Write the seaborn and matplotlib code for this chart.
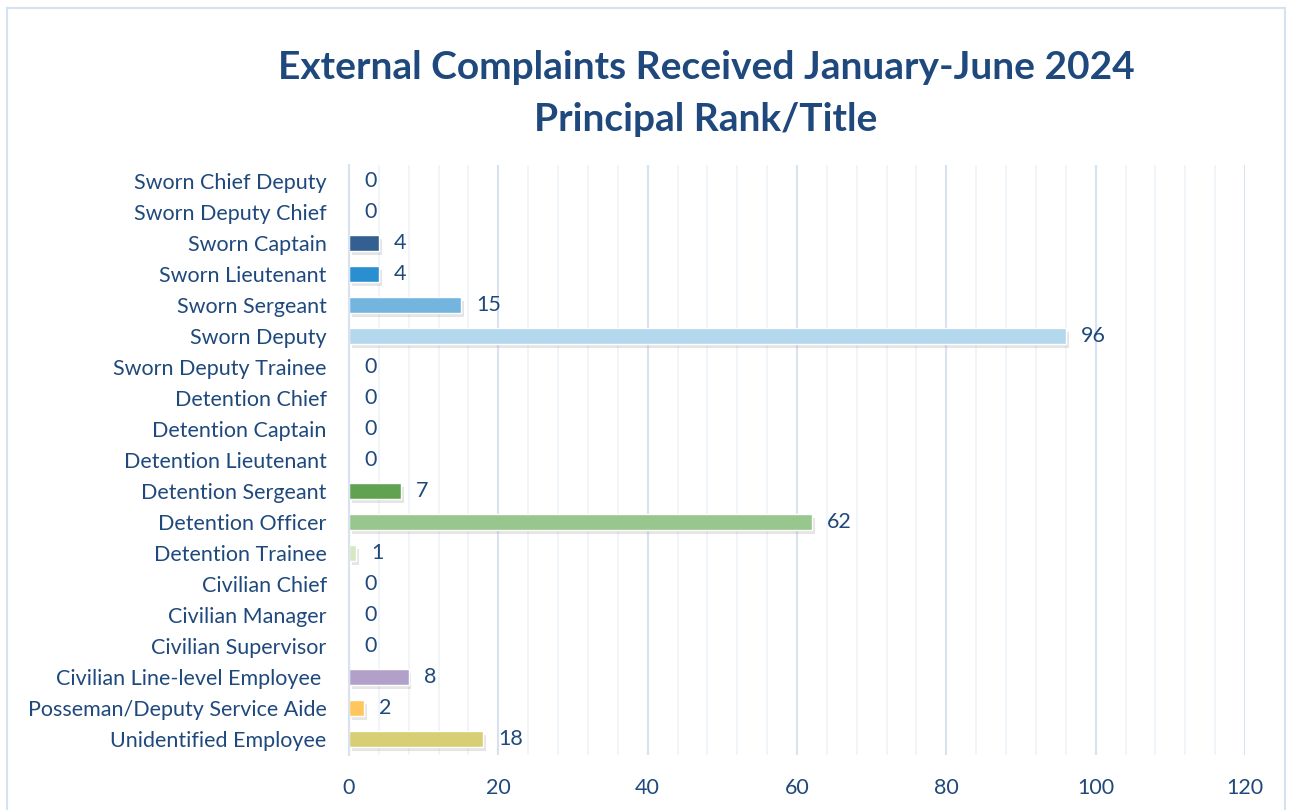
import pandas as pd
import seaborn as sns
import matplotlib.pyplot as plt
import matplotlib.patheffects as pe
from matplotlib.ticker import MultipleLocator
from matplotlib.patches import Rectangle

categories = ["Sworn Chief Deputy", "Sworn Deputy Chief", "Sworn Captain", "Sworn Lieutenant",
              "Sworn Sergeant", "Sworn Deputy", "Sworn Deputy Trainee", "Detention Chief",
              "Detention Captain", "Detention Lieutenant", "Detention Sergeant", "Detention Officer",
              "Detention Trainee", "Civilian Chief", "Civilian Manager", "Civilian Supervisor",
              "Civilian Line-level Employee ", "Posseman/Deputy Service Aide", "Unidentified Employee"]
counts = [0, 0, 4, 4, 15, 96, 0, 0, 0, 0, 7, 62, 1, 0, 0, 0, 8, 2, 18]
bar_colors = ["#335F91", "#335F91", "#335F91", "#2A8FD0", "#74B5E0", "#B3D7EC", "#B3D7EC",
              "#60A24F", "#60A24F", "#60A24F", "#60A24F", "#97C78C", "#D6E8C3", "#B1A1CA",
              "#B1A1CA", "#B1A1CA", "#B1A1CA", "#FFC65E", "#D8CE73"]

navy = "#1F497D"
sns.set_style("white")
plt.rcParams['font.family'] = ['Lato', 'DejaVu Sans']

df = pd.DataFrame({"cat": categories, "n": counts})

fig = plt.figure(figsize=(12.91, 8.10), dpi=100)
ax = fig.add_axes([0.2703, 0.0685, 0.6941, 0.7272])

sns.barplot(data=df, x="n", y="cat", hue="cat", palette=dict(zip(categories, bar_colors)),
            orient="h", width=0.52, legend=False, ax=ax, saturation=1)

# soft drop shadow like the office chart
for p in ax.patches:
    p.set_path_effects([pe.SimplePatchShadow(offset=(2, -3), shadow_rgbFace="#8a8a8a", alpha=0.22),
                        pe.Normal()])

for i, v in enumerate(counts):
    ax.annotate(str(v), (v, i), xytext=(15, 0), textcoords="offset pixels",
                va="center", ha="left", fontsize=15.5, color=navy)

ax.set_xlim(0, 120)
ax.set_ylim(len(categories) - 0.5, -0.5)
ax.xaxis.set_major_locator(MultipleLocator(20))
ax.xaxis.set_minor_locator(MultipleLocator(4))
ax.grid(axis="x", which="major", color="#D9E3F0", lw=1.5)
ax.grid(axis="x", which="minor", color="#EEF3FA", lw=1.2)
ax.set_axisbelow(True)
for s in ["top", "right", "bottom"]:
    ax.spines[s].set_visible(False)
ax.spines["left"].set_color("#D9E3F0")
ax.spines["left"].set_linewidth(1.5)
ax.tick_params(axis="both", which="both", length=0, colors=navy, labelsize=15.5)
ax.tick_params(axis="y", pad=16)
ax.tick_params(axis="x", pad=17)
ax.set_xlabel("")
ax.set_ylabel("")

fig.text(0.547, 0.917, "External Complaints Received January-June 2024", ha="center", va="center",
         fontsize=28, fontweight="bold", color=navy)
fig.text(0.547, 0.853, "Principal Rank/Title", ha="center", va="center",
         fontsize=28, fontweight="bold", color=navy)

fig.patches.append(Rectangle((0.0055, -0.05), 0.99, 1.04, transform=fig.transFigure,
                             fill=False, edgecolor="#D5E2F1", lw=1.5))

fig.savefig("out.png", dpi=100)
